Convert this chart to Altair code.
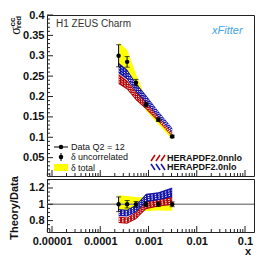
import altair as alt
import pandas as pd

# ---- data ----
x_vals = [0.00024, 0.00036, 0.00055, 0.00089, 0.0016, 0.0031]
data_vals = [0.300, 0.285, 0.234, 0.180, 0.143, 0.102]
unc_err = [0.027, 0.013, 0.008, 0.005, 0.004, 0.003]
tot_err = [0.033, 0.029, 0.021, 0.015, 0.011, 0.008]
nlo_vals = [0.270, 0.254, 0.222, 0.194, 0.157, 0.117]
nlo_err = [0.013, 0.012, 0.011, 0.009, 0.007, 0.006]
nnlo_vals = [0.243, 0.228, 0.201, 0.178, 0.146, 0.106]
nnlo_err = [0.012, 0.011, 0.010, 0.009, 0.007, 0.005]

y_major_top = [0.05, 0.1, 0.15, 0.2, 0.25, 0.3, 0.35, 0.4]
y_minor_top = [i / 100 for i in range(1, 40) if i % 5]
y_major_bot = [0.8, 1.0, 1.2]
y_minor_bot = [0.7, 0.75, 0.85, 0.9, 0.95, 1.05, 1.1, 1.15, 1.25, 1.3]
x_major = [1e-5, 1e-4, 1e-3, 1e-2, 1e-1]
x_minor = [k * 10.0 ** e for e in range(-6, 0) for k in range(2, 10)]

XMIN, XMAX = 7.875e-6, 0.1536
W, HT, HB = 207, 161, 53
FONT = "Liberation Sans"

x_minor = [v for v in x_minor if XMIN < v < XMAX]

rows = []
for i in range(len(x_vals)):
    d = data_vals[i]
    rows.append(dict(
        x=x_vals[i], d=d, r=1.0,
        u_lo=d - unc_err[i], u_hi=d + unc_err[i],
        t_lo=d - tot_err[i], t_hi=d + tot_err[i],
        n_lo=nlo_vals[i] - nlo_err[i], n_hi=nlo_vals[i] + nlo_err[i],
        nn_lo=nnlo_vals[i] - nnlo_err[i], nn_hi=nnlo_vals[i] + nnlo_err[i],
        ru_lo=1 - unc_err[i] / d, ru_hi=1 + unc_err[i] / d,
        rt_lo=1 - tot_err[i] / d, rt_hi=1 + tot_err[i] / d,
        rn_lo=(nlo_vals[i] - nlo_err[i]) / d, rn_hi=(nlo_vals[i] + nlo_err[i]) / d,
        rnn_lo=(nnlo_vals[i] - nnlo_err[i]) / d, rnn_hi=(nnlo_vals[i] + nnlo_err[i]) / d,
    ))
df = pd.DataFrame(rows)

one = pd.DataFrame({"k": [0]})

xsc = alt.Scale(type="log", domain=[XMIN, XMAX], nice=False)
ysc_top = alt.Scale(domain=[0.005, 0.4], nice=False, zero=False)
ysc_bot = alt.Scale(domain=[0.66, 1.31], nice=False, zero=False)

yaxis_top = alt.Axis(values=y_major_top, format=".2~f", labelFont=FONT, labelFontSize=11,
                     labelFontWeight="bold", labelColor="#111", ticks=False, domain=False,
                     grid=False, title=None, labelPadding=3)
yaxis_bot = alt.Axis(values=y_major_bot, format=".1~f", labelFont=FONT, labelFontSize=11,
                     labelFontWeight="bold", labelColor="#111", ticks=False, domain=False,
                     grid=False, title=None, labelPadding=3)
xaxis_bot = alt.Axis(values=x_major, format=".5~f", labelFont=FONT, labelFontSize=11,
                     labelFontWeight="bold", labelColor="#111", ticks=False, domain=False,
                     grid=False, title=None, labelPadding=3, labelFlush=False)

BLUE = "#1414a8"
RED = "#b40808"
YEL = "#ffff00"


def X(f, ax=None):
    return alt.X(f, type="quantitative", scale=xsc, axis=ax)


def text(txt, x, y, **kw):
    return alt.Chart(one).mark_text(text=txt, **kw).encode(x=alt.value(x), y=alt.value(y))


def seg(x, x2, y, y2, color, width=1.0):
    return alt.Chart(one).mark_rule(color=color, strokeWidth=width).encode(
        x=alt.value(x), x2=alt.value(x2), y=alt.value(y), y2=alt.value(y2))


def band(lo, hi, color, xax, ysc, yax):
    base = alt.Chart(df)
    area = base.mark_area(color=color, opacity=1).encode(
        x=X("x", xax), y=alt.Y(lo, type="quantitative", scale=ysc, axis=yax),
        y2=alt.Y2(hi))
    hatch = []
    for f in (0.25, 0.5, 0.75):
        hatch.append(base.transform_calculate(
            m=f"datum['{lo}'] + {f} * (datum['{hi}'] - datum['{lo}'])"
        ).mark_line(color="white", strokeWidth=1, strokeDash=[1.5, 2]).encode(
            x=X("x", xax), y=alt.Y("m:Q", scale=ysc, axis=yax)))
    return [area] + hatch


def yticks(major, minor, ysc, yax):
    maj = alt.Chart(pd.DataFrame({"v": major})).mark_rule(color="#222", strokeWidth=1).encode(
        y=alt.Y("v:Q", scale=ysc, axis=yax), x=alt.value(0), x2=alt.value(6))
    mino = alt.Chart(pd.DataFrame({"v": minor})).mark_rule(color="#222", strokeWidth=1).encode(
        y=alt.Y("v:Q", scale=ysc, axis=yax), x=alt.value(0), x2=alt.value(3))
    return [maj, mino]


def xticks(h, xax):
    maj = alt.Chart(pd.DataFrame({"v": x_major})).mark_rule(color="#222", strokeWidth=1).encode(
        x=X("v:Q", xax), y=alt.value(h), y2=alt.value(h - 6))
    mino = alt.Chart(pd.DataFrame({"v": x_minor})).mark_rule(color="#222", strokeWidth=1).encode(
        x=X("v:Q", xax), y=alt.value(h), y2=alt.value(h - 3))
    return [maj, mino]


# ---------------- top panel ----------------
top_layers = []
base = alt.Chart(df)
top_layers.append(base.mark_area(color=YEL, opacity=1).encode(
    x=X("x"), y=alt.Y("t_lo:Q", scale=ysc_top, axis=yaxis_top), y2="t_hi:Q"))
top_layers += band("nn_lo", "nn_hi", RED, None, ysc_top, yaxis_top)
top_layers += band("n_lo", "n_hi", BLUE, None, ysc_top, yaxis_top)
top_layers.append(base.mark_rule(color="black", strokeWidth=1).encode(
    x=X("x"), y=alt.Y("u_lo:Q", scale=ysc_top, axis=yaxis_top), y2="u_hi:Q"))
top_layers.append(base.mark_tick(color="black", orient="horizontal", size=5, thickness=1).encode(
    x=X("x"), y=alt.Y("u_lo:Q", scale=ysc_top, axis=yaxis_top)))
top_layers.append(base.mark_tick(color="black", orient="horizontal", size=5, thickness=1).encode(
    x=X("x"), y=alt.Y("u_hi:Q", scale=ysc_top, axis=yaxis_top)))
top_layers.append(base.mark_point(filled=True, shape="circle", size=20, color="black", opacity=1).encode(
    x=X("x"), y=alt.Y("d:Q", scale=ysc_top, axis=yaxis_top)))
top_layers += yticks(y_major_top, y_minor_top, ysc_top, yaxis_top)
top_layers += xticks(HT, None)

# texts & legend
top_layers.append(text("H1 ZEUS Charm", 9, 9, font=FONT, fontSize=10, color="#333",
                       align="left", baseline="middle"))
top_layers.append(text("xFitter", 165, 16, font=FONT, fontSize=11, fontStyle="italic",
                       color="#3fa4e4", align="left", baseline="middle"))
top_layers.append(text("σ", -31, 16, font="Liberation Serif", fontSize=14, angle=270,
                       align="center", baseline="middle", color="#111"))
top_layers.append(text("cc", -34, 7, font=FONT, fontSize=8, fontWeight="bold", angle=270,
                       align="center", baseline="middle", color="#111"))
top_layers.append(text("red", -28, 7, font=FONT, fontSize=8, fontWeight="bold", angle=270,
                       align="center", baseline="middle", color="#111"))

# legend left column
top_layers.append(seg(7, 21, 132, 132, "black"))
top_layers.append(alt.Chart(one).mark_point(filled=True, size=20, color="black", opacity=1).encode(
    x=alt.value(14), y=alt.value(132)))
top_layers.append(text("Data Q2 = 12", 24, 132, font=FONT, fontSize=9, align="left",
                       baseline="middle", color="#111"))
top_layers.append(seg(14, 14, 138, 146, "black"))
top_layers.append(alt.Chart(one).mark_point(filled=True, size=20, color="black", opacity=1).encode(
    x=alt.value(14), y=alt.value(142)))
top_layers.append(text("δ", 24, 142, font="Liberation Serif", fontSize=10, align="left",
                       baseline="middle", color="#111"))
top_layers.append(text("uncorrelated", 31, 142, font=FONT, fontSize=9, align="left",
                       baseline="middle", color="#111"))
top_layers.append(alt.Chart(one).mark_rect(color=YEL).encode(
    x=alt.value(7), x2=alt.value(21), y=alt.value(149), y2=alt.value(156)))
top_layers.append(text("δ", 24, 152.5, font="Liberation Serif", fontSize=10, align="left",
                       baseline="middle", color="#111"))
top_layers.append(text("total", 31, 152.5, font=FONT, fontSize=9, align="left",
                       baseline="middle", color="#111"))

# legend right column
for x0 in (104, 109, 114):
    top_layers.append(seg(x0, x0 + 4, 146, 140, RED, 1.5))
    top_layers.append(seg(x0, x0 + 4, 149, 155, BLUE, 1.5))
top_layers.append(text("HERAPDF2.0nnlo", 120, 143, font=FONT, fontSize=9, fontWeight="bold",
                       align="left", baseline="middle", color="#111"))
top_layers.append(text("HERAPDF2.0nlo", 120, 152, font=FONT, fontSize=9, fontWeight="bold",
                       align="left", baseline="middle", color="#111"))

top = alt.layer(*top_layers).properties(width=W, height=HT)

# ---------------- bottom panel ----------------
bl = []
bb = alt.Chart(df)
bl.append(bb.mark_area(color=YEL, opacity=1).encode(
    x=X("x", xaxis_bot), y=alt.Y("rt_lo:Q", scale=ysc_bot, axis=yaxis_bot), y2="rt_hi:Q"))
bl.append(alt.Chart(pd.DataFrame({"v": [1.0]})).mark_rule(color="#8a8a8a", strokeWidth=1.5).encode(
    y=alt.Y("v:Q", scale=ysc_bot, axis=yaxis_bot), x=alt.value(0), x2=alt.value(W)))
bl += band("rnn_lo", "rnn_hi", RED, xaxis_bot, ysc_bot, yaxis_bot)
bl += band("rn_lo", "rn_hi", BLUE, xaxis_bot, ysc_bot, yaxis_bot)
bl.append(bb.mark_rule(color="black", strokeWidth=1).encode(
    x=X("x", xaxis_bot), y=alt.Y("ru_lo:Q", scale=ysc_bot, axis=yaxis_bot), y2="ru_hi:Q"))
bl.append(bb.mark_tick(color="black", orient="horizontal", size=5, thickness=1).encode(
    x=X("x", xaxis_bot), y=alt.Y("ru_lo:Q", scale=ysc_bot, axis=yaxis_bot)))
bl.append(bb.mark_tick(color="black", orient="horizontal", size=5, thickness=1).encode(
    x=X("x", xaxis_bot), y=alt.Y("ru_hi:Q", scale=ysc_bot, axis=yaxis_bot)))
bl.append(bb.mark_point(filled=True, shape="circle", size=20, color="black", opacity=1).encode(
    x=X("x", xaxis_bot), y=alt.Y("r:Q", scale=ysc_bot, axis=yaxis_bot)))
bl += yticks(y_major_bot, y_minor_bot, ysc_bot, yaxis_bot)
bl += xticks(HB, xaxis_bot)
bl.append(text("Theory/Data", -32, 29, font=FONT, fontSize=11, fontWeight="bold", angle=270,
               align="center", baseline="middle", color="#111"))
bl.append(text("x", 201, 73, font=FONT, fontSize=11, fontWeight="bold", align="center",
               baseline="middle", color="#111"))

bottom = alt.layer(*bl).properties(width=W, height=HB)

chart = alt.vconcat(top, bottom, spacing=3, bounds="flush").properties(
    padding=0, background="white"
).configure_view(stroke="#222", strokeWidth=1)

chart.save("out.html", embed_options={"renderer": "svg", "actions": False})
